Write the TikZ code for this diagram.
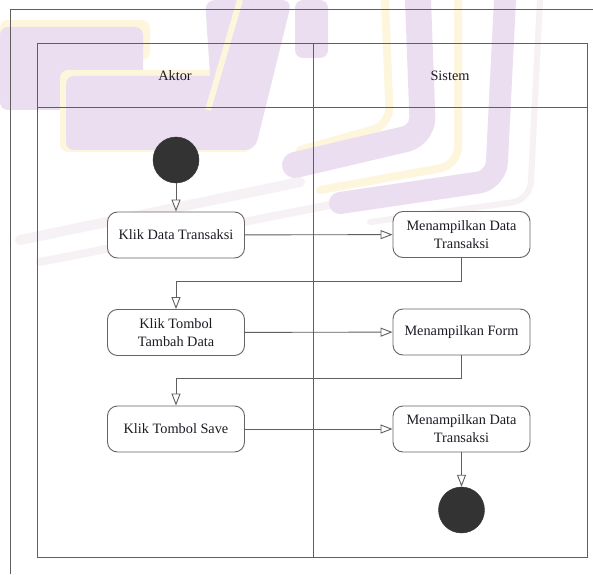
\documentclass[tikz,border=0pt]{standalone}
\usepackage{fontspec}
\setmainfont{Liberation Serif}
\newfontfamily\diagfont{Liberation Serif}
\usetikzlibrary{arrows.meta}

\definecolor{frameC}{RGB}{95,95,95}
\definecolor{boxC}{RGB}{100,100,100}
\definecolor{txtC}{RGB}{30,25,35}
\definecolor{dotC}{RGB}{51,51,51}
\definecolor{wmPurple}{RGB}{235,222,240}
\definecolor{wmYellow}{RGB}{253,245,220}
\definecolor{wmFaint}{RGB}{246,241,244}

\tikzset{
  frameline/.style={draw=frameC, line width=1bp},
  actbox/.style={draw=boxC, fill=white, rounded corners=10bp, line width=0.9bp,
    minimum width=137bp, minimum height=46bp, align=center, text=txtC,
    font=\diagfont\fontsize{14.3bp}{18bp}\selectfont, inner sep=2bp},
  lanetitle/.style={text=txtC, font=\diagfont\fontsize{14.3bp}{18bp}\selectfont},
  dot/.style={circle, fill=dotC, draw=dotC, minimum size=46bp, inner sep=0pt},
  flow/.style={draw=frameC, line width=0.9bp,
    -{Triangle[open, length=12bp, width=9bp, fill=white]}},
  wm/.style={line cap=round, line join=round, rounded corners=18bp}
}

\begin{document}
\begin{tikzpicture}[x=1bp, y=-1bp]
  \useasboundingbox (0,0) rectangle (593,575);
  \fill[white] (0,0) rectangle (593,575);

  % faded logo in the background
  \begin{scope}
    \fill[wmYellow, rounded corners=8bp] (0,20) rectangle (150,60);
    \fill[wmPurple, rounded corners=8bp] (0,27) rectangle (143,110);
    \fill[wmYellow, rounded corners=8bp] (60,70) rectangle (252,152);
    \fill[wmPurple, rounded corners=8bp] (66,76) rectangle (250,150);
    \fill[wmPurple, rounded corners=10bp] (205,0) -- (292,0) -- (255,150) -- (215,150) -- cycle;
    \draw[wmYellow, line width=6bp] (240,0) -- (208,110);
    \fill[wmPurple, rounded corners=8bp] (295,0) rectangle (328,58);
    \draw[wm, wmFaint, line width=10bp] (20,240) -- (300,182);
    \draw[wm, wmFaint, line width=8bp] (40,262) -- (330,205);
    \draw[wm, wmYellow, line width=8bp] (385,0) -- (390,125) -- (300,150);
    \draw[wm, wmPurple, line width=26bp] (418,0) -- (423,135) -- (295,165);
    \draw[wm, wmYellow, line width=8bp] (458,0) -- (458,165) -- (320,190);
    \draw[wm, wmPurple, line width=22bp] (505,0) -- (496,180) -- (340,203);
    \draw[wm, wmFaint, line width=6bp] (540,0) -- (530,200) -- (370,222);
  \end{scope}

  % outer page frame
  \draw[frameline] (10,574) -- (10,9.5) -- (593,9.5);

  % swimlane table
  \draw[frameline] (37,44) rectangle (587,557);
  \draw[frameline] (37,108) -- (587,108);
  \draw[frameline] (313,44) -- (313,557);
  \node[lanetitle] (laneA) at (175,76) {Aktor};
  \node[lanetitle] (laneS) at (450,76) {Sistem};

  % activities
  \node[dot] (start) at (176,160) {};
  \node[actbox] (a1) at (176,235) {Klik Data Transaksi};
  \node[actbox] (s1) at (461.5,234.5) {Menampilkan Data\\Transaksi};
  \node[actbox] (a2) at (176,332.5) {Klik Tombol\\Tambah Data};
  \node[actbox] (s2) at (461.5,332) {Menampilkan Form};
  \node[actbox] (a3) at (176,429) {Klik Tombol Save};
  \node[actbox] (s3) at (461.5,429) {Menampilkan Data\\Transaksi};
  \node[dot] (end) at (461.5,510) {};

  % control flow
  \draw[flow] (start) -- (a1);
  \draw[flow] (a1) -- (s1);
  \draw[flow] (s1.south) -- ++(0,23) -| (a2.north);
  \draw[flow] (a2) -- (s2);
  \draw[flow] (s2.south) -- ++(0,23) -| (a3.north);
  \draw[flow] (a3) -- (s3);
  \draw[flow] (s3) -- (end);
\end{tikzpicture}
\end{document}
